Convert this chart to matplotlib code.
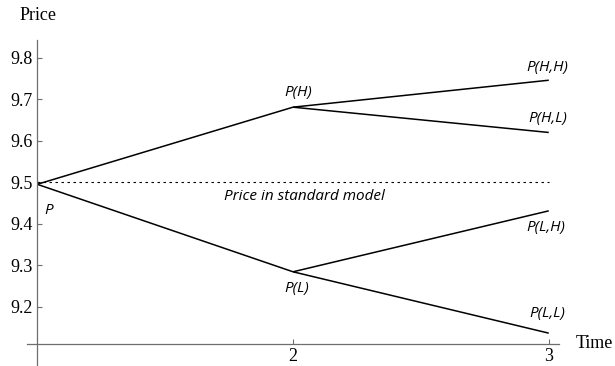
import matplotlib.pyplot as plt

## values
times = [1, 2, 3]
p0 = 9.495
p_h, p_l = 9.681, 9.284
p_hh, p_hl = 9.746, 9.620
p_lh, p_ll = 9.431, 9.136
standard = 9.5
yticks = [9.2, 9.3, 9.4, 9.5, 9.6, 9.7, 9.8]
xticks = [2, 3]

## set up the figure (615x366 px)
fig = plt.figure(figsize=(6.15, 3.66), dpi=100)
W, H = 615.0, 366.0
ax = fig.add_axes([27 / W, 0 / H, (559 - 27) / W, (366 - 40) / H])
ax.set_xlim(0.96, 3.04)
ax.set_ylim(9.0568, 9.843)

## axes crossing like the original
for s in ['top', 'right']:
    ax.spines[s].set_visible(False)
ax.spines['left'].set_position(('data', 1))
ax.spines['bottom'].set_position(('data', 9.11))
for s in ['left', 'bottom']:
    ax.spines[s].set_color('#6e6e6e')
    ax.spines[s].set_linewidth(0.9)

ax.set_xticks(xticks)
ax.set_yticks(yticks)
ax.set_yticklabels([f'{v:.1f}' for v in yticks])
ax.tick_params(direction='in', length=3.5, width=0.8, color='#6e6e6e',
               labelsize=13, pad=3)
for lab in ax.get_xticklabels() + ax.get_yticklabels():
    lab.set_family('Liberation Serif')

## the tree
black = dict(color='black', lw=1.1, solid_capstyle='butt')
ax.plot(times[:2], [p0, p_h], **black)
ax.plot(times[:2], [p0, p_l], **black)
ax.plot(times[1:], [p_h, p_hh], **black)
ax.plot(times[1:], [p_h, p_hl], **black)
ax.plot(times[1:], [p_l, p_lh], **black)
ax.plot(times[1:], [p_l, p_ll], **black)

## standard model price
ax.plot([times[0], times[-1]], [standard, standard], color='black', lw=0.8,
        linestyle=(0, (2.2, 3.2)))

## labels
lab = dict(textcoords='offset pixels', ha='center', va='center',
           fontsize=11, style='italic', family='Open Sans')
ax.annotate('P', (1, p0), xytext=(11, -26), **lab)
ax.annotate('P(H)', (2, p_h), xytext=(5, 15), **lab)
ax.annotate('P(L)', (2, p_l), xytext=(4, -17), **lab)
ax.annotate('P(H,H)', (3, p_hh), xytext=(-1, 13), **lab)
ax.annotate('P(H,L)', (3, p_hl), xytext=(-1, 14), **lab)
ax.annotate('P(L,H)', (3, p_lh), xytext=(-3, -17), **lab)
ax.annotate('P(L,L)', (3, p_ll), xytext=(-1, 20), **lab)
ax.annotate('Price in standard model', (2, standard), xytext=(11, -14), **lab)

## axis names
fig.text(20 / W, 1 - 15 / H, 'Price', fontsize=13, family='Liberation Serif',
         ha='left', va='center')
fig.text(576 / W, 1 - 344 / H, 'Time', fontsize=13, family='Liberation Serif',
         ha='left', va='center')

fig.savefig('out.png', dpi=100)
